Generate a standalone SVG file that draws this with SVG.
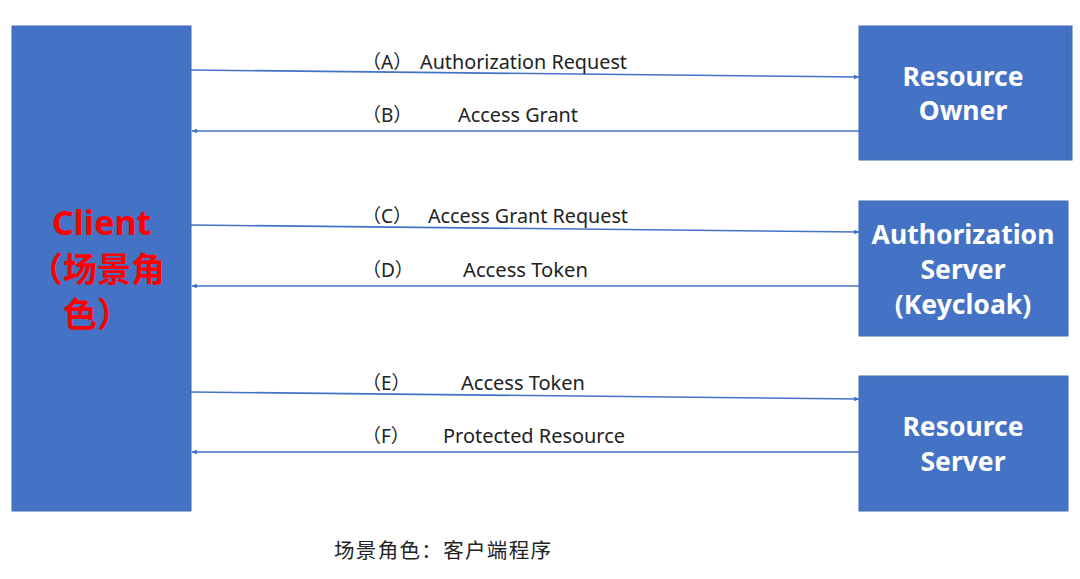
<svg xmlns="http://www.w3.org/2000/svg" width="1080" height="579" viewBox="0 0 1080 579">
<style>
.box{fill:#4472C4;stroke:#3F68B0;stroke-width:1}
.nt{font-family:"Noto Sans","Noto Sans CJK SC",sans-serif;font-weight:bold;font-size:26.5px;fill:#fff;text-anchor:middle}
.lbl{font-family:"Noto Sans","Noto Sans CJK SC",sans-serif;font-size:19px;fill:#222}
.ct{font-family:"Noto Sans","Noto Sans CJK SC",sans-serif;font-weight:bold;font-size:34px;fill:#FF0000}
.ln{stroke:#4472C4;stroke-width:1.6;fill:none}
</style>
<defs>
<marker id="ah" viewBox="0 0 10 10" refX="9" refY="5" markerWidth="6" markerHeight="6" orient="auto" markerUnits="userSpaceOnUse">
<path d="M0,1 L10,5 L0,9 z" fill="#4472C4"/>
</marker>
</defs>
<rect width="1080" height="579" fill="#fff"/>
<g id="client">
<rect class="box" x="12" y="26" width="179" height="485"/>
<text class="ct" x="52" y="235">Client</text>
<text class="ct" x="29" y="282">（场景角</text>
<text class="ct" x="63" y="327">色）</text>
</g>
<g id="resource-owner">
<rect class="box" x="859" y="26" width="213" height="134"/>
<line x1="1067" y1="27" x2="1067" y2="159" stroke="#3A62A8" stroke-width="1"/>
<text class="nt" x="963" y="86">Resource</text>
<text class="nt" x="963" y="120">Owner</text>
</g>
<g id="authorization-server">
<rect class="box" x="859" y="201" width="209" height="135"/>
<text class="nt" x="963" y="244">Authorization</text>
<text class="nt" x="963" y="279">Server</text>
<text class="nt" x="963" y="314">(Keycloak)</text>
</g>
<g id="resource-server">
<rect class="box" x="859" y="376" width="209" height="135"/>
<text class="nt" x="963" y="436">Resource</text>
<text class="nt" x="963" y="471">Server</text>
</g>
<g id="connectors">
<line class="ln" x1="191" y1="70" x2="859" y2="77" marker-end="url(#ah)"/>
<line class="ln" x1="859" y1="131" x2="192" y2="131" marker-end="url(#ah)"/>
<line class="ln" x1="191" y1="225" x2="859" y2="232" marker-end="url(#ah)"/>
<line class="ln" x1="859" y1="286" x2="192" y2="286" marker-end="url(#ah)"/>
<line class="ln" x1="191" y1="392" x2="859" y2="399" marker-end="url(#ah)"/>
<line class="ln" x1="859" y1="452" x2="192" y2="452" marker-end="url(#ah)"/>
</g>
<g id="labels">
<text class="lbl" x="362" y="69">（A）</text><text class="lbl" x="420" y="69" textLength="207" lengthAdjust="spacingAndGlyphs">Authorization Request</text>
<text class="lbl" x="362" y="122">（B）</text><text class="lbl" x="458" y="122" textLength="120" lengthAdjust="spacingAndGlyphs">Access Grant</text>
<text class="lbl" x="362" y="223">（C）</text><text class="lbl" x="428" y="223" textLength="200" lengthAdjust="spacingAndGlyphs">Access Grant Request</text>
<text class="lbl" x="362" y="277">（D）</text><text class="lbl" x="463" y="277" textLength="125" lengthAdjust="spacingAndGlyphs">Access Token</text>
<text class="lbl" x="362" y="390">（E）</text><text class="lbl" x="461" y="390" textLength="124" lengthAdjust="spacingAndGlyphs">Access Token</text>
<text class="lbl" x="362" y="443">（F）</text><text class="lbl" x="443" y="443" textLength="182" lengthAdjust="spacingAndGlyphs">Protected Resource</text>
<text class="lbl" x="334" y="558" style="font-size:20.5px" textLength="217" lengthAdjust="spacing">场景角色：客户端程序</text>
</g>
</svg>
